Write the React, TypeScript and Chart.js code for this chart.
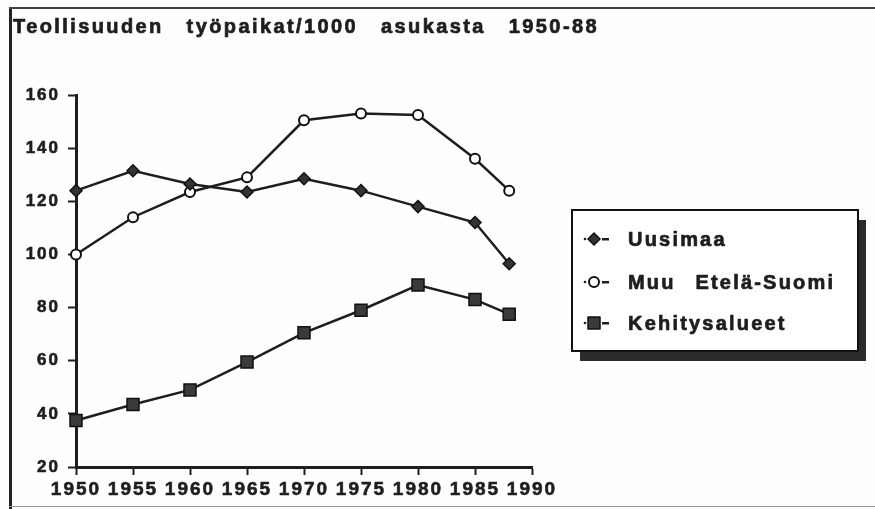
import React, { useEffect, useRef } from "react";
import { Chart, registerables } from "chart.js";
import { drawPoint } from "chart.js/helpers";

Chart.register(...registerables);

const titleText = "Teollisuuden työpaikat/1000 asukasta 1950-88";
const years = [1950, 1955, 1960, 1965, 1970, 1975, 1980, 1985, 1988];
const uusimaa = [124, 131.5, 126.5, 123.5, 128.5, 124, 118, 112, 96.5];
const muuEtelaSuomi = [100, 114, 123.5, 129, 150.5, 153, 152.5, 136, 124];
const kehitysalueet = [37.5, 43.5, 49, 59.5, 70.5, 79, 88.5, 83, 77.5];
const seriesNames = ["Uusimaa", "Muu Etelä-Suomi", "Kehitysalueet"];
const xMin = 1950;
const xMax = 1990;
const yMin = 20;
const yMax = 160;

const FONT = "'Liberation Sans', Arial, sans-serif";
const INK = "#1e1e1e";

const toPoints = (vals: number[]) => vals.map((v, i) => ({ x: years[i], y: v }));

const heavyText = (ctx: CanvasRenderingContext2D, text: string, x: number, y: number) => {
  ctx.strokeStyle = INK;
  ctx.lineWidth = 0.7;
  ctx.lineJoin = "round";
  ctx.fillText(text, x, y);
  ctx.strokeText(text, x, y);
};

const decorPlugin = {
  id: "decor",
  beforeDraw(chart: any) {
    const ctx = chart.ctx as CanvasRenderingContext2D;
    ctx.save();
    ctx.fillStyle = "#fefefe";
    ctx.fillRect(0, 0, chart.width, chart.height);
    // frame
    ctx.fillStyle = "#222";
    ctx.fillRect(9, 7, 3, chart.height - 7);
    ctx.fillStyle = "#444";
    ctx.fillRect(9, 7, chart.width - 9, 2);
    ctx.fillStyle = "#999";
    ctx.fillRect(9, chart.height - 3, chart.width - 9, 1);
    // title
    (ctx as any).letterSpacing = "2.4px";
    (ctx as any).wordSpacing = "15px";
    ctx.fillStyle = INK;
    ctx.font = `bold 20px ${FONT}`;
    ctx.textBaseline = "middle";
    ctx.textAlign = "left";
    heavyText(ctx, titleText, 13, 27);
    ctx.restore();
    (ctx as any).letterSpacing = "2px";
  },
  afterDraw(chart: any) {
    const ctx = chart.ctx as CanvasRenderingContext2D;
    ctx.save();
    const bx = 572, by = 210, bw = 286, bh = 141;
    ctx.fillStyle = "#2b2b2b";
    ctx.fillRect(bx + 8, by + 10, bw, bh);
    ctx.fillStyle = "#ffffff";
    ctx.fillRect(bx, by, bw, bh);
    ctx.strokeStyle = "#111";
    ctx.lineWidth = 2;
    ctx.strokeRect(bx, by, bw, bh);
    const rows = [239, 282, 323];
    chart.data.datasets.forEach((ds: any, i: number) => {
      const y = rows[i];
      ctx.fillStyle = INK;
      ctx.beginPath();
      ctx.arc(585, y, 1.3, 0, Math.PI * 2);
      ctx.fill();
      ctx.fillRect(602, y - 1, 7, 2.5);
      ctx.fillStyle = ds.pointBackgroundColor;
      ctx.strokeStyle = ds.pointBorderColor;
      ctx.lineWidth = ds.pointBorderWidth;
      drawPoint(ctx, { pointStyle: ds.pointStyle, radius: ds.pointRadius, borderWidth: ds.pointBorderWidth, rotation: 0 } as any, 594, y);
      (ctx as any).letterSpacing = "2.2px";
      (ctx as any).wordSpacing = "12px";
      ctx.fillStyle = INK;
      ctx.font = `bold 20px ${FONT}`;
      ctx.textBaseline = "middle";
      ctx.textAlign = "left";
      heavyText(ctx, ds.label, 628, y + 1);
    });
    ctx.restore();
  },
};

export default function App() {
  const ref = useRef<HTMLCanvasElement | null>(null);
  useEffect(() => {
    if (!ref.current) return;
    const common = { borderColor: INK, borderWidth: 2.5, pointBorderColor: "#111", showLine: true, clip: false };
    const chart = new Chart(ref.current, {
      type: "scatter",
      data: {
        datasets: [
          { ...common, label: seriesNames[0], data: toPoints(uusimaa), pointStyle: "rectRot", pointRadius: 6, pointBackgroundColor: "#333", pointBorderWidth: 1.5 },
          { ...common, label: seriesNames[1], data: toPoints(muuEtelaSuomi), pointStyle: "circle", pointRadius: 5, pointBackgroundColor: "#ffffff", pointBorderWidth: 2 },
          { ...common, label: seriesNames[2], data: toPoints(kehitysalueet), pointStyle: "rect", pointRadius: 8.5, pointBackgroundColor: "#3a3a3a", pointBorderWidth: 1.5 },
        ],
      } as any,
      options: {
        animation: false,
        responsive: false,
        layout: { padding: { left: 0, right: 343, top: 95, bottom: 0 } },
        plugins: { legend: { display: false }, title: { display: false }, tooltip: { enabled: false } },
        scales: {
          x: {
            type: "linear",
            min: xMin,
            max: xMax,
            ticks: { stepSize: 5, color: INK, font: { family: FONT, size: 19, weight: "bold" }, padding: 3, maxRotation: 0, textStrokeColor: INK, textStrokeWidth: 0.6, callback: (v: any) => String(v) },
            grid: { drawOnChartArea: false, drawTicks: true, tickLength: 8, tickWidth: 2, tickColor: INK },
            border: { display: true, width: 3, color: INK },
            afterFit: (s: any) => { s.height = 42; },
          },
          y: {
            min: yMin,
            max: yMax,
            ticks: { stepSize: 20, color: INK, font: { family: FONT, size: 17, weight: "bold" }, padding: 8, textStrokeColor: INK, textStrokeWidth: 0.6 },
            grid: { drawOnChartArea: false, drawTicks: true, tickLength: 8, tickWidth: 2, tickColor: INK },
            border: { display: true, width: 3, color: INK },
            afterFit: (s: any) => { s.width = 76; },
          },
        },
      } as any,
      plugins: [decorPlugin],
    });
    return () => chart.destroy();
  }, []);
  return (
    <div style={{ position: "fixed", left: 0, top: 0, width: 875, height: 509, background: "#fff" }}>
      <canvas ref={ref} width={875} height={509} style={{ width: 875, height: 509, display: "block" }} />
    </div>
  );
}
